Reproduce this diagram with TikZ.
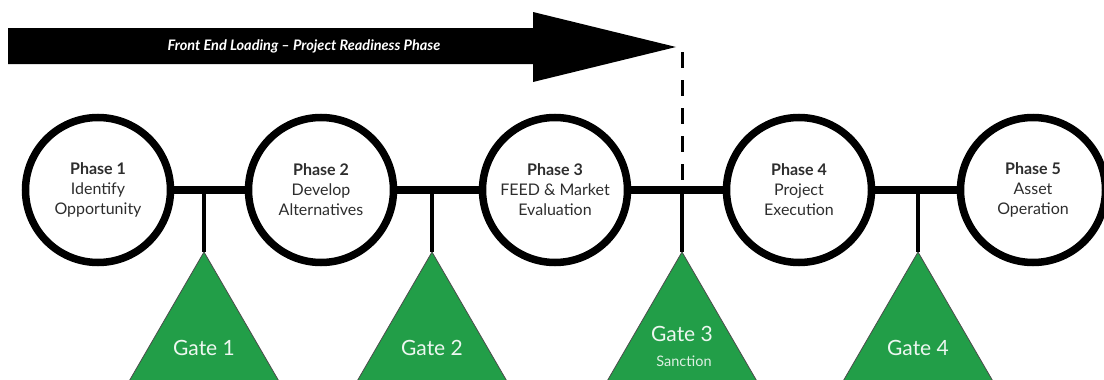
\documentclass[tikz,border=0pt]{standalone}
\usepackage{fontspec}
\setmainfont{Lato}
\definecolor{gategreen}{RGB}{34,158,72}
\definecolor{txtgray}{RGB}{45,45,45}
\begin{document}
\begin{tikzpicture}[x=1pt,y=-1pt,
  phase/.style={circle, draw=black, line width=7.5pt, minimum size=145pt, inner sep=0pt,
    align=center, text=txtgray, font=\fontsize{16}{20}\selectfont},
  link/.style={line width=8pt, black},
  drop/.style={line width=3.5pt, black},
  gatetri/.style={draw=black!70, line width=0.8pt},
  gatelbl/.style={text=white!92!gategreen, font=\fontsize{21}{23}\selectfont},
  sublbl/.style={text=white!85!gategreen, font=\fontsize{14.5}{16}\selectfont}]
\useasboundingbox (0,0) rectangle (1104,380);
% FEL arrow
\fill[black] (8,28) -- (533,28) -- (533,12) -- (676,47) -- (533,82) -- (533,64) -- (8,64) -- cycle;
\node[text=white, font=\fontsize{14.5}{16}\selectfont\bfseries\itshape] (fel) at (304,46) {Front End Loading -- Project Readiness Phase};
\coordinate (tip) at (682,52);
% phases
\node[phase] (p1) at (98,190) {\textbf{Phase 1}\\Identify\\Opportunity};
\node[phase] (p2) at (321,190) {\textbf{Phase 2}\\Develop\\Alternatives};
\node[phase] (p3) at (555,190) {\textbf{Phase 3}\\FEED \& Market\\Evaluation};
\node[phase] (p4) at (799,190) {\textbf{Phase 4}\\Project\\Execution};
\node[phase] (p5) at (1033,190) {\textbf{Phase 5}\\Asset\\Operation};
\draw[link] (p1.east) -- (p2.west);
\draw[link] (p2.east) -- (p3.west);
\draw[link] (p3.east) -- (p4.west);
\draw[link] (p4.east) -- (p5.west);
% junctions
\coordinate (j1) at (204,190);
\coordinate (j2) at (432,190);
\coordinate (j3) at (682,190);
\coordinate (j4) at (918,190);
% gates
\foreach \x/\n in {204/1,432/2,682/3,918/4}{
  \coordinate (a\n) at (\x,252);
  \fill[gategreen] (a\n) -- (\x+87,402) -- (\x-87,402) -- cycle;
  \draw[gatetri] (\x-87,402) -- (a\n) -- (\x+87,402);
}
\draw[drop] (j1) -- (a1);
\draw[drop] (j2) -- (a2);
\draw[drop] (j3) -- (a3);
\draw[drop] (j4) -- (a4);
\draw[line width=3pt, dash pattern=on 16pt off 12pt] (tip) -- (j3);
\node[gatelbl] (g1) at (204,348) {Gate 1};
\node[gatelbl] (g2) at (432,348) {Gate 2};
\node[gatelbl] (g3) at (682,334) {Gate 3};
\node[sublbl] (s3) at (684,361) {Sanction};
\node[gatelbl] (g4) at (918,348) {Gate 4};
\end{tikzpicture}
\end{document}
